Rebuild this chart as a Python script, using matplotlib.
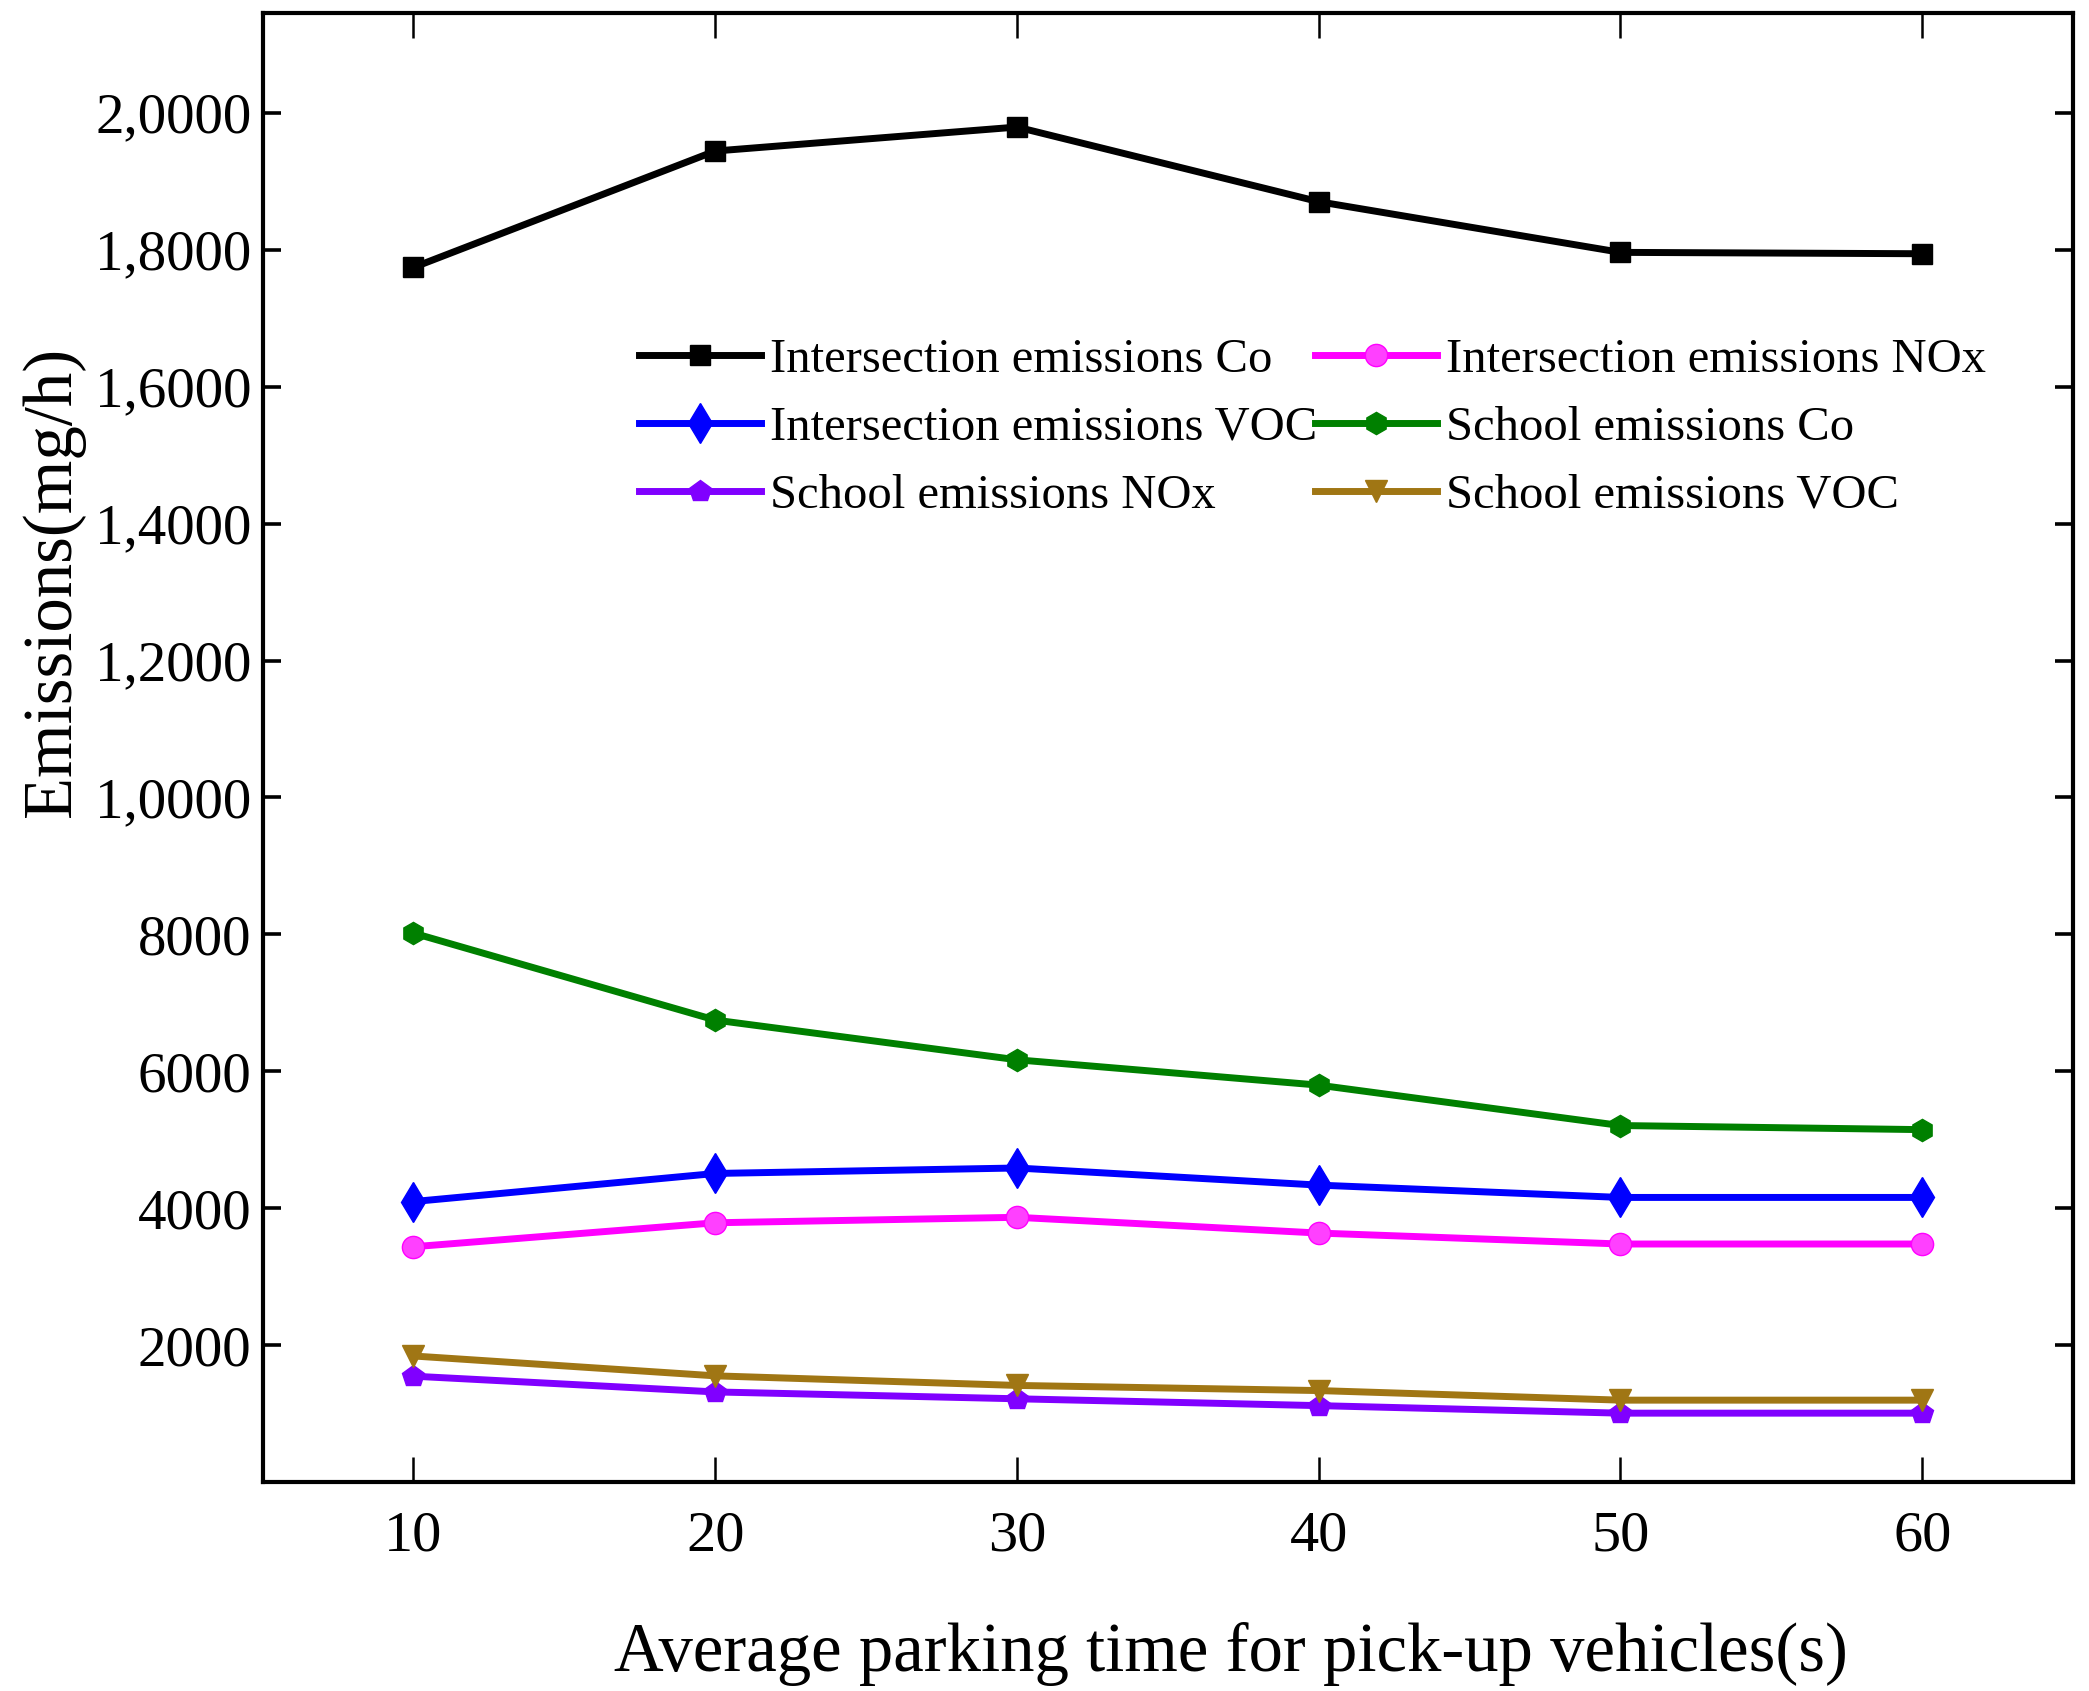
import matplotlib
matplotlib.use('Agg')
import matplotlib.pyplot as plt

plt.rcParams['font.family'] = ['Liberation Serif', 'DejaVu Serif']

x = [10, 20, 30, 40, 50, 60]

int_co = [17740, 19440, 19790, 18700, 17960, 17940]
int_nox = [3440, 3790, 3870, 3640, 3480, 3480]
int_voc = [4100, 4510, 4590, 4340, 4160, 4160]
sch_co = [8020, 6750, 6170, 5800, 5210, 5150]
sch_nox = [1550, 1320, 1220, 1120, 1010, 1010]
sch_voc = [1845, 1555, 1415, 1340, 1200, 1200]

yticks = [2000, 4000, 6000, 8000, 10000, 12000, 14000, 16000, 18000, 20000]
ytick_labels = ['2000', '4000', '6000', '8000', '1,0000', '1,2000',
                '1,4000', '1,6000', '1,8000', '2,0000']

fig = plt.figure(figsize=(20.89, 16.91), dpi=100)
ax = fig.add_axes([0.1257, 0.1234, 0.8667, 0.8687])

lw = 5
ms = 16
l1, = ax.plot(x, int_co, color='black', lw=lw, marker='s', ms=14,
              label='Intersection emissions Co')
l2, = ax.plot(x, int_nox, color='#ff00ff', lw=lw, marker='o', ms=ms,
              markerfacecolor='#ff40ff', markeredgecolor='#ff00ff',
              label='Intersection emissions NOx')
l3, = ax.plot(x, int_voc, color='#0000ff', lw=lw, marker='d', ms=20,
              label='Intersection emissions VOC')
l4, = ax.plot(x, sch_co, color='#008000', lw=lw, marker='h', ms=ms,
              label='School emissions Co')
l5, = ax.plot(x, sch_nox, color='#8000ff', lw=lw, marker='p', ms=ms,
              label='School emissions NOx')
l6, = ax.plot(x, sch_voc, color='#a07614', lw=lw, marker='v', ms=ms,
              label='School emissions VOC')

ax.set_xlim(5, 65)
ax.set_ylim(0, 21450)
ax.set_xticks(x)
ax.set_yticks(yticks)
ax.set_yticklabels(ytick_labels)

for s in ax.spines.values():
    s.set_linewidth(3)

ax.tick_params(axis='x', direction='in', top=True, bottom=True,
               length=18, width=1.8, labelsize=42, pad=20)
ax.tick_params(axis='y', direction='in', left=True, right=True,
               length=13, width=2.6, labelsize=41, pad=8)

ax.set_xlabel('Average parking time for pick-up vehicles(s)', fontsize=49.5)
ax.xaxis.set_label_coords(0.5346, -0.095)
ax.set_ylabel('Emissions(mg/h)', fontsize=49.5)
ax.yaxis.set_label_coords(-0.098, 0.613)

ax.legend(handles=[l1, l3, l5, l2, l4, l6], ncol=2, frameon=False,
          loc='upper left', bbox_to_anchor=(0.208, 0.779),
          fontsize=35, handlelength=2.5, handletextpad=0.2,
          columnspacing=-0.05, labelspacing=0.49, borderpad=0, borderaxespad=0)

fig.savefig('out.png', dpi=100)
